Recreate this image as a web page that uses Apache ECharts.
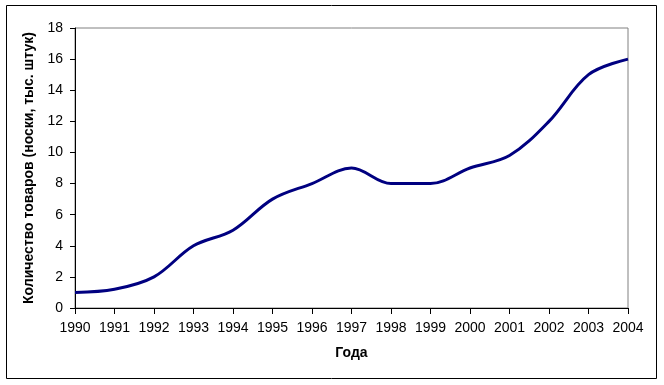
<!DOCTYPE html>
<html><head><meta charset="utf-8">
<script src="https://cdn.jsdelivr.net/npm/echarts@6/dist/echarts.min.js"></script>
<style>html,body{margin:0;padding:0;background:#fff}#c{width:664px;height:385px}</style>
</head><body><div id="c"></div>
<script>
const years = ['1990','1991','1992','1993','1994','1995','1996','1997','1998','1999','2000','2001','2002','2003','2004'];
const values = [1, 1.2, 2, 4, 5, 7, 8, 9, 8, 8, 9, 9.8, 12, 15, 16];
const yTitle = 'Количество товаров (носки, тыс. штук)';
const xTitle = 'Года';

const chart = echarts.init(document.getElementById('c'), null, {renderer:'canvas'});
const font = '"Liberation Sans", Arial, sans-serif';
chart.setOption({
  animation:false,
  backgroundColor:'#fff',
  graphic:[{type:'rect', shape:{x:6.5,y:5.5,width:650,height:373}, style:{fill:'none',stroke:'#000',lineWidth:1}, z:-1}],
  grid:{left:75,right:36,top:28,bottom:77,show:true,borderColor:'#808080',borderWidth:1},
  xAxis:{type:'category',data:years,boundaryGap:false,
    name:xTitle,nameLocation:'middle',nameGap:38,
    nameTextStyle:{fontFamily:font,fontSize:14,fontWeight:'bold',color:'#000'},
    axisLine:{lineStyle:{color:'#000',width:1}},
    axisTick:{show:true,length:6,lineStyle:{color:'#000'}},
    axisLabel:{fontFamily:font,fontSize:14,color:'#000',margin:13,interval:0},
    splitLine:{show:false}},
  yAxis:{type:'value',min:0,max:18,interval:2,
    name:yTitle,nameLocation:'middle',nameGap:36,
    nameTextStyle:{fontFamily:font,fontSize:14,fontWeight:'bold',color:'#000'},
    axisLine:{show:true,lineStyle:{color:'#000',width:1}},
    axisTick:{show:true,length:5,lineStyle:{color:'#000'}},
    axisLabel:{fontFamily:font,fontSize:14,color:'#000',margin:12},
    splitLine:{show:false}},
  series:[{type:'line',data:values,smooth:0.35,symbol:'none',
    lineStyle:{color:'#000080',width:3}}]
});
</script></body></html>
